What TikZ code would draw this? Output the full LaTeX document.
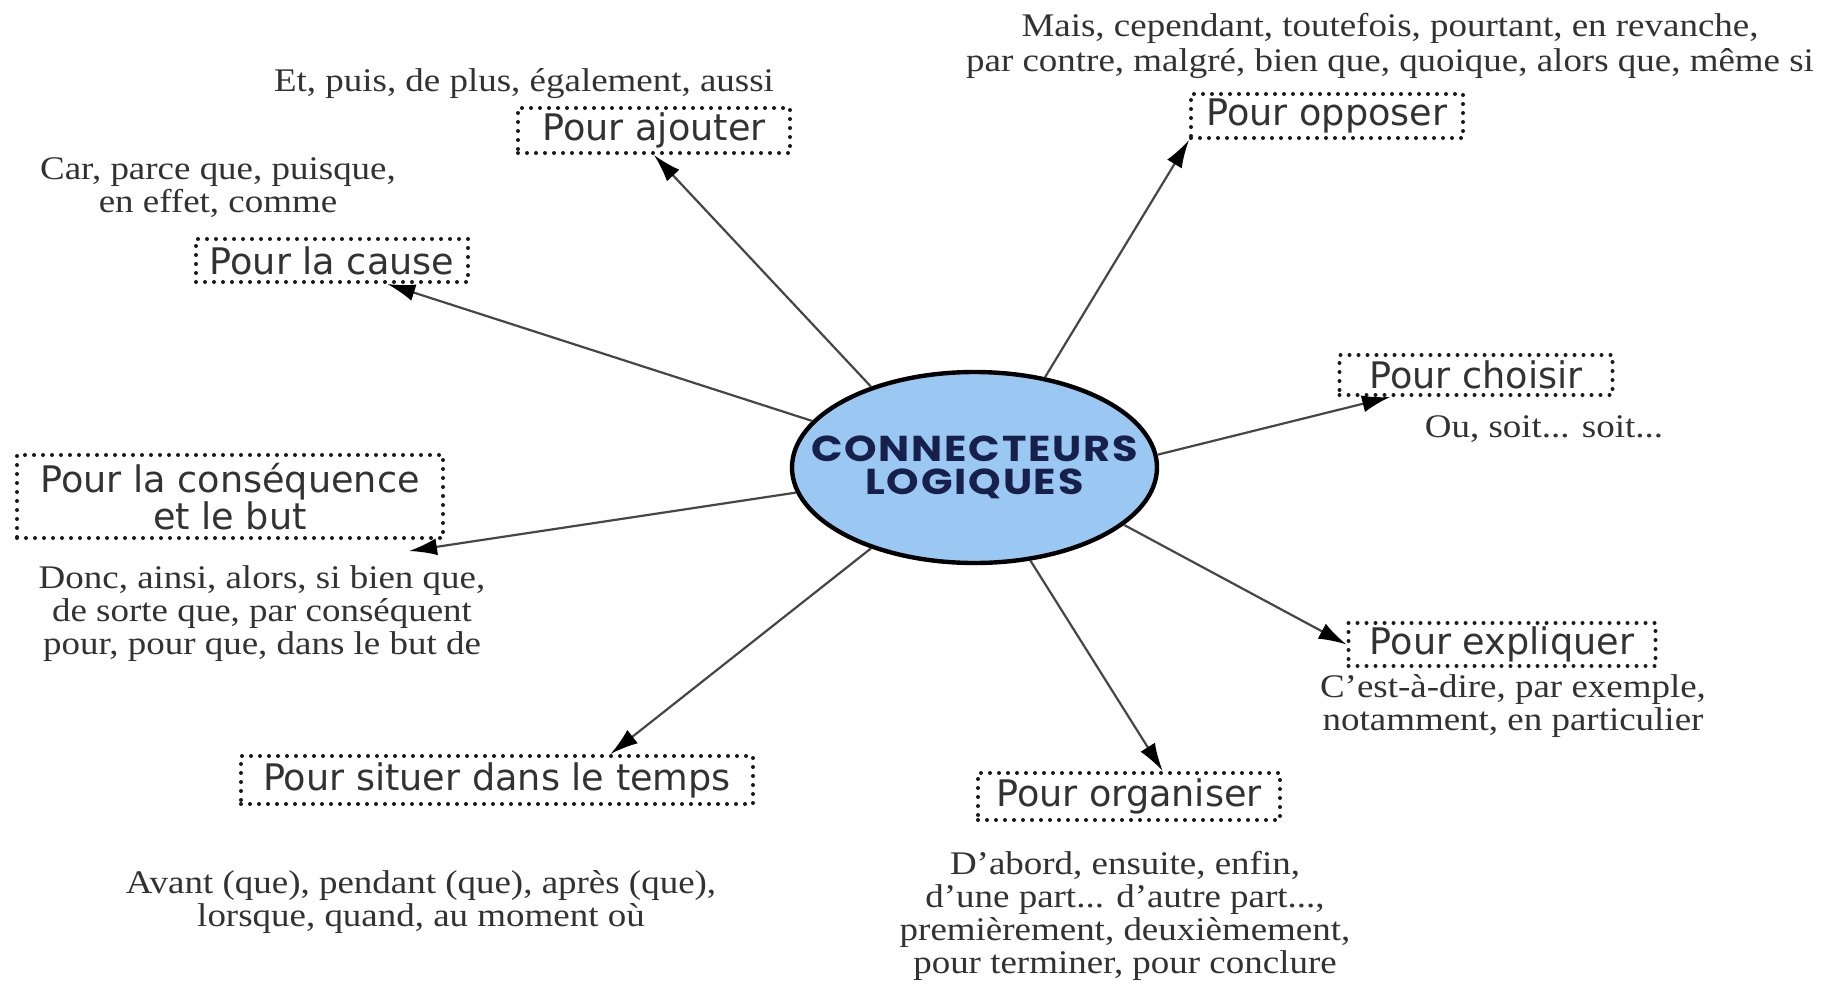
\documentclass[tikz,border=0pt]{standalone}
\usepackage{fontspec}
\setmainfont{Liberation Serif}[FakeStretch=1.12]
\newfontfamily\boxfont{DejaVu Sans}
\newfontfamily\titlefont{Poppins}[FakeStretch=1.15,LetterSpace=5]
\usetikzlibrary{arrows.meta,calc,shapes.geometric}
\definecolor{ellfill}{RGB}{155,200,242}
\definecolor{navy}{RGB}{22,32,75}
\definecolor{txt}{RGB}{50,50,50}
\definecolor{arrgray}{RGB}{70,70,70}
\tikzset{
  cat/.style={draw=black!90, line width=2pt, dash pattern=on 0pt off 4.5pt,
    line cap=round, inner sep=0pt, text=txt, align=center,
    font=\boxfont\fontsize{18.3}{16}\selectfont},
  ex/.style={text=txt, align=center, inner sep=0pt,
    font=\fontsize{16.5}{16.5}\selectfont},
  arr/.style={draw=arrgray, line width=1.1pt,
    -{Latex[length=14pt,width=8.5pt,color=black]}},
}
\begin{document}
\begin{tikzpicture}[x=0.5pt,y=-0.5pt]
\useasboundingbox[fill=white] (0,0) rectangle (1844,986);

% centre
\node[ellipse, draw=black, line width=2.2pt, fill=ellfill, minimum width=182.5pt,
  minimum height=95.5pt, inner xsep=-30pt, inner ysep=0pt, text=navy, align=center,
  font=\titlefont\bfseries\fontsize{18}{16.5}\selectfont] (c) at (974.5,467.5)
  {CONNECTEURS\\LOGIQUES};

% category boxes
\node[cat, minimum width=136pt, minimum height=22.5pt] (ajouter) at (654,130.5) {Pour ajouter};
\node[cat, minimum width=136pt, minimum height=22pt] (opposer) at (1327,116) {Pour opposer};
\node[cat, minimum width=136pt, minimum height=21.5pt] (cause) at (332,260.5) {Pour la cause};
\node[cat, minimum width=136.5pt, minimum height=20pt] (choisir) at (1476,375) {Pour choisir};
\node[cat, minimum width=213pt, minimum height=41.5pt] (cons) at (230,496.5) {Pour la conséquence\\et le but};
\node[cat, minimum width=153.5pt, minimum height=21.5pt] (expl) at (1502,644.5) {Pour expliquer};
\node[cat, minimum width=256pt, minimum height=24pt] (temps) at (497,780) {Pour situer dans le temps};
\node[cat, minimum width=151pt, minimum height=23.5pt] (org) at (1129,796.5) {Pour organiser};

% example texts
\node[ex] (tajouter) at (524,84) {Et, puis, de plus, également, aussi};
\node[ex, font=\fontsize{16.5}{17.5}\selectfont] (topposer) at (1390,46) {Mais, cependant, toutefois, pourtant, en revanche,\\par contre, malgré, bien que, quoique, alors que, même si};
\node[ex] (tcause) at (218,188) {Car, parce que, puisque,\\en effet, comme};
\node[ex] (tchoisir) at (1544,429) {Ou, soit... soit...};
\node[ex] (tcons) at (262,614) {Donc, ainsi, alors, si bien que,\\de sorte que, par conséquent\\pour, pour que, dans le but de};
\node[ex] (texpl) at (1513,706) {C'est-à-dire, par exemple,\\notamment, en particulier};
\node[ex] (ttemps) at (421,902) {Avant (que), pendant (que), après (que),\\lorsque, quand, au moment où};
\node[ex] (torg) at (1125,916) {D'abord, ensuite, enfin,\\d'une part... d'autre part...,\\premièrement, deuxièmement,\\pour terminer, pour conclure};

% connectors
\draw[arr] (c.142) -- (ajouter.south);
\draw[arr] (c.52) -- (opposer.south west);
\draw[arr] (c.164) -- ($(cause.south west)!0.7!(cause.south east)$);
\draw[arr] (c.4) -- ($(choisir.south west)!0.19!(choisir.south east)$);
\draw[arr] (c.188) -- ($(cons.south east)+(-36,11)$);
\draw[arr] (c.339) -- (expl.west);
\draw[arr] (c.218) -- ($(temps.north west)!0.72!(temps.north east)$);
\draw[arr] (c.301) -- ($(org.north west)!0.61!(org.north east)$);
\end{tikzpicture}
\end{document}
